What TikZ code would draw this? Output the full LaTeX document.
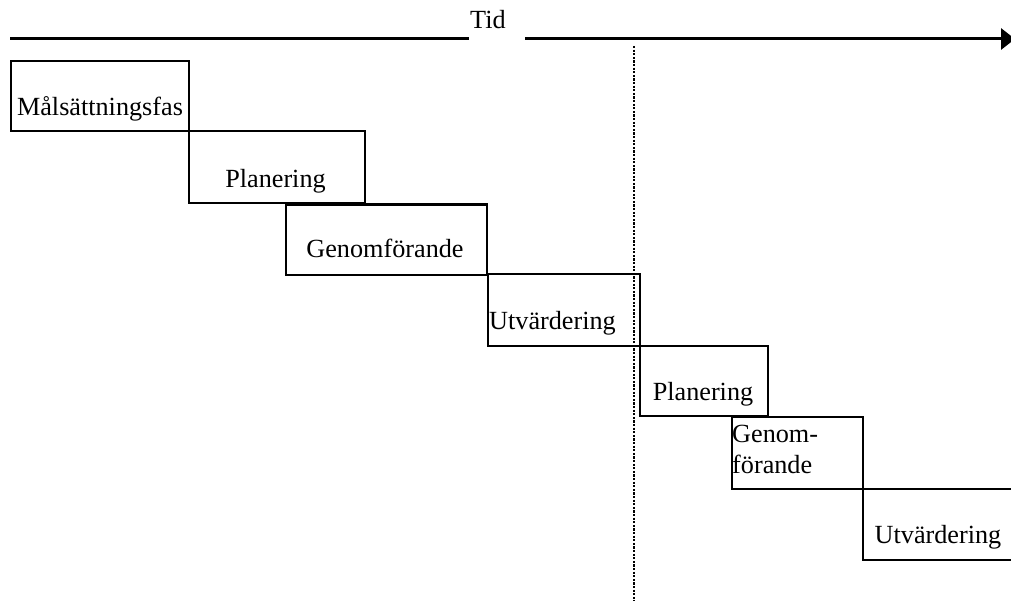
\documentclass[tikz,border=0pt]{standalone}
\usepackage{fontspec}
\setmainfont{Liberation Serif}
\usetikzlibrary{arrows.meta}
\begin{document}
\begin{tikzpicture}[x=1pt,y=-1pt,
  box/.style={draw=black, line width=2.2pt, inner sep=0pt, anchor=north west},
  txt/.style={font=\fontsize{26.2}{31}\selectfont, inner sep=0pt},
  timeline/.style={line width=3pt, -{Triangle[length=14pt,width=21pt]}}]
\useasboundingbox (0,0) rectangle (1011,601);
% time axis
\coordinate (tstart) at (10,39);
\coordinate (tend) at (1015,39);
\draw[timeline] (tstart) -- (tend);
\node[txt, fill=white, anchor=base west, text height=19pt, text depth=14pt,
      text width=54pt, align=left, inner xsep=1pt] (tid) at (469,29) {Tid};
% dotted divider
\coordinate (dtop) at (634,46);
\coordinate (dbot) at (634,601);
\draw[line width=1.1pt, dash pattern=on 2.2pt off 1.4pt] (dtop) -- (dbot);
% boxes
\node[box, minimum width=178pt, minimum height=70pt] (b1) at (10,60) {};
\node[box, minimum width=176pt, minimum height=72pt] (b2) at (188,130) {};
\node[box, minimum width=201pt, minimum height=70.5pt] (b3) at (285,203.5) {};
\node[box, minimum width=152pt, minimum height=72pt] (b4) at (487,273) {};
\node[box, minimum width=128pt, minimum height=70pt] (b5) at (639,345) {};
\node[box, minimum width=131pt, minimum height=72pt] (b6) at (731,416) {};
\node[box, minimum width=170pt, minimum height=71pt] (b7) at (862,488) {};
% texts
\node[txt, anchor=base] (t1) at (100,116) {Målsättningsfas};
\node[txt, anchor=base] (t2) at (275.5,188) {Planering};
\node[txt, anchor=base] (t3) at (385,258) {Genomförande};
\node[txt, anchor=base west] (t4) at (489,329) {Utvärdering};
\node[txt, anchor=base] (t5) at (703,400) {Planering};
\node[txt, anchor=base west, align=left] (t6) at (732,473) {Genom-\\förande};
\node[txt, anchor=base] (t7) at (938,543) {Utvärdering};
\end{tikzpicture}
\end{document}
